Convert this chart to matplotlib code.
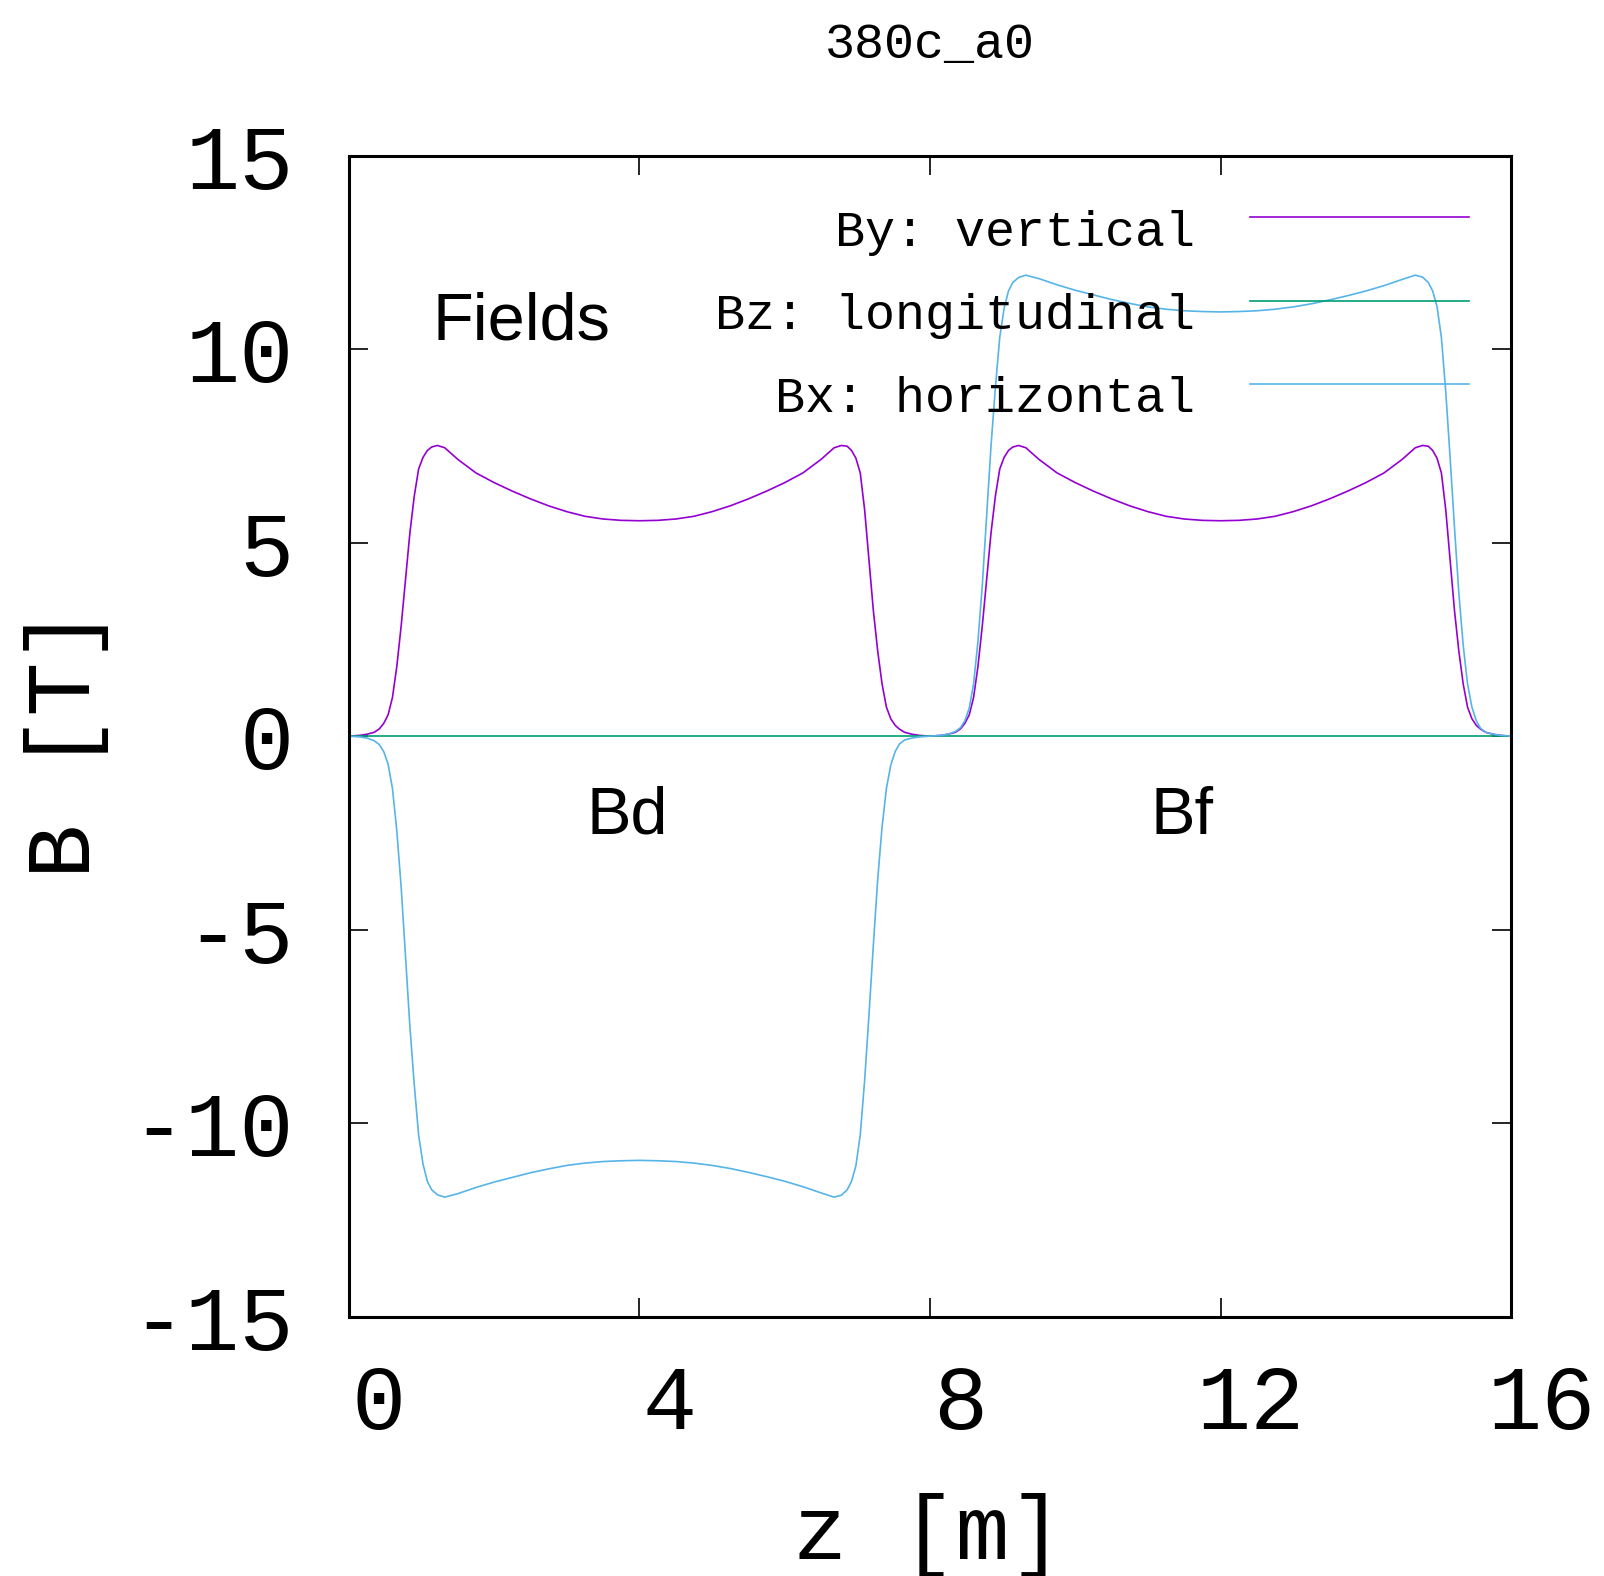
import matplotlib
matplotlib.use('Agg')
import matplotlib.pyplot as plt
from matplotlib.transforms import ScaledTranslation

# field map along the two dipoles (z in m, B in T)
z = [0.00, 0.15, 0.25, 0.35, 0.42, 0.48, 0.54, 0.60, 0.66, 0.72, 0.78, 0.84, 0.90, 0.96, 1.02,
     1.08, 1.14, 1.22, 1.32, 1.50, 1.75, 2.00, 2.25, 2.50, 2.75, 3.00, 3.25, 3.50, 3.75, 4.00,
     4.25, 4.50, 4.75, 5.00, 5.25, 5.50, 5.75, 6.00, 6.25, 6.50, 6.68, 6.78, 6.86, 6.92, 6.98,
     7.04, 7.10, 7.16, 7.22, 7.28, 7.34, 7.40, 7.46, 7.52, 7.58, 7.65, 7.75, 7.85, 8.00,
     8.15, 8.25, 8.35, 8.42, 8.48, 8.54, 8.60, 8.66, 8.72, 8.78, 8.84, 8.90, 8.96, 9.02,
     9.08, 9.14, 9.22, 9.32, 9.50, 9.75, 10.00, 10.25, 10.50, 10.75, 11.00, 11.25, 11.50, 11.75, 12.00,
     12.25, 12.50, 12.75, 13.00, 13.25, 13.50, 13.75, 14.00, 14.25, 14.50, 14.68, 14.78, 14.86, 14.92, 14.98,
     15.04, 15.10, 15.16, 15.22, 15.28, 15.34, 15.40, 15.46, 15.52, 15.58, 15.65, 15.75, 15.85, 16.00]

by = [0.00, 0.02, 0.05, 0.10, 0.19, 0.33, 0.55, 1.00, 1.80, 2.85, 4.05, 5.25, 6.20, 6.90, 7.20,
      7.38, 7.47, 7.51, 7.45, 7.15, 6.80, 6.55, 6.33, 6.13, 5.95, 5.80, 5.68, 5.61, 5.575, 5.565,
      5.575, 5.61, 5.68, 5.80, 5.95, 6.13, 6.33, 6.55, 6.80, 7.15, 7.45, 7.51, 7.49, 7.38, 7.18,
      6.80, 5.85, 4.55, 3.25, 2.20, 1.35, 0.75, 0.45, 0.28, 0.18, 0.10, 0.05, 0.02, 0.00,
      0.02, 0.05, 0.10, 0.19, 0.33, 0.55, 1.00, 1.80, 2.85, 4.05, 5.25, 6.20, 6.90, 7.20,
      7.38, 7.47, 7.51, 7.45, 7.15, 6.80, 6.55, 6.33, 6.13, 5.95, 5.80, 5.68, 5.61, 5.575, 5.565,
      5.575, 5.61, 5.68, 5.80, 5.95, 6.13, 6.33, 6.55, 6.80, 7.15, 7.45, 7.51, 7.49, 7.38, 7.18,
      6.80, 5.85, 4.55, 3.25, 2.20, 1.35, 0.75, 0.45, 0.28, 0.18, 0.10, 0.05, 0.02, 0.00]

bz = [0.0] * len(z)

bx = [0.00, -0.02, -0.05, -0.12, -0.22, -0.40, -0.72, -1.35, -2.45, -3.90, -5.70, -7.50, -9.00, -10.30, -11.05,
      -11.50, -11.72, -11.85, -11.91, -11.82, -11.66, -11.52, -11.40, -11.28, -11.18, -11.09, -11.03, -10.99, -10.97, -10.96,
      -10.97, -10.99, -11.03, -11.09, -11.17, -11.27, -11.38, -11.50, -11.64, -11.80, -11.91, -11.86, -11.72, -11.50, -11.10,
      -10.30, -8.90, -7.20, -5.40, -3.70, -2.35, -1.35, -0.75, -0.40, -0.20, -0.10, -0.05, -0.02, 0.00,
      0.02, 0.05, 0.12, 0.22, 0.40, 0.72, 1.35, 2.45, 3.90, 5.70, 7.50, 9.00, 10.30, 11.05,
      11.50, 11.72, 11.85, 11.91, 11.82, 11.66, 11.52, 11.40, 11.28, 11.18, 11.09, 11.03, 10.99, 10.97, 10.96,
      10.97, 10.99, 11.03, 11.09, 11.17, 11.27, 11.38, 11.50, 11.64, 11.80, 11.91, 11.86, 11.72, 11.50, 11.10,
      10.30, 8.90, 7.20, 5.40, 3.70, 2.35, 1.35, 0.75, 0.40, 0.20, 0.10, 0.05, 0.02, 0.00]

x_ticks = [0, 4, 8, 12, 16]
y_ticks = [-15, -10, -5, 0, 5, 10, 15]
series = [('By: vertical', by, '#9400d3'),
          ('Bz: longitudinal', bz, '#009e73'),
          ('Bx: horizontal', bx, '#56b4e9')]

mono = 'Liberation Mono'
sans = 'Liberation Sans'

fig = plt.figure(figsize=(16.04, 15.76), dpi=100)
ax = fig.add_axes([0.2175, 0.1645, 0.7246, 0.7368])

for label, vals, col in series:
    ax.plot(z, vals, color=col, lw=1.2)

ax.set_xlim(0, 16)
ax.set_ylim(-15, 15)
ax.set_xticks(x_ticks)
ax.set_yticks(y_ticks)
ax.set_xticklabels([str(t) for t in x_ticks], fontfamily=mono, fontsize=65)
ax.set_yticklabels([str(t) for t in y_ticks], fontfamily=mono, fontsize=65)
ax.tick_params(direction='in', length=13.7, width=1.2, top=True, right=True)
ax.tick_params(axis='x', pad=33)
ax.tick_params(axis='y', pad=40)
for sp in ax.spines.values():
    sp.set_linewidth(2.2)

# gnuplot puts the x tick labels a little right of the ticks
shift = ScaledTranslation(0.30, 0, fig.dpi_scale_trans)
for lbl in ax.get_xticklabels():
    lbl.set_transform(lbl.get_transform() + shift)

# key: right-aligned text with the sample line to its right
key_text_y = [0.9225, 0.8502, 0.7788]
key_line_y = [0.9471, 0.8750, 0.8036]
for (label, vals, col), ty, ly in zip(series, key_text_y, key_line_y):
    ax.text(0.7282, ty, label, transform=ax.transAxes, ha='right', va='baseline',
            fontfamily=mono, fontsize=36)
    ax.plot([0.7755, 0.9639], [ly, ly], transform=ax.transAxes, color=col, lw=1.2)

ax.text(1.155, 10.24, 'Fields', fontfamily=sans, fontsize=48, ha='left', va='baseline')
ax.text(3.27, -2.52, 'Bd', fontfamily=sans, fontsize=48, ha='left', va='baseline')
ax.text(11.04, -2.52, 'Bf', fontfamily=sans, fontsize=48, ha='left', va='baseline')

fig.text(930 / 1604, 1 - 58 / 1576, '380c_a0', fontfamily=mono, fontsize=36,
         ha='center', va='baseline')
fig.text(928 / 1604, 1 - 1536 / 1576, 'z [m]', fontfamily=mono, fontsize=65,
         ha='center', va='center')
fig.text(66.5 / 1604, 1 - 742.7 / 1576, 'B [T]', fontfamily=mono, fontsize=65,
         ha='center', va='center', rotation=90)

fig.savefig('out.png', dpi=100)
